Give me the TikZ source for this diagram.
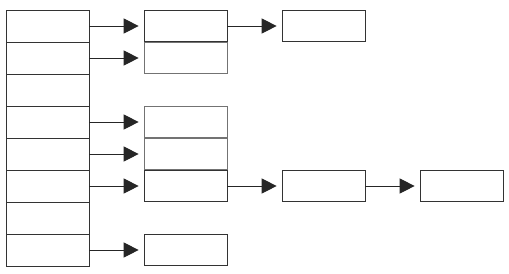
\documentclass[tikz,border=0pt]{standalone}
\usetikzlibrary{arrows.meta,positioning}

\begin{document}
\begin{tikzpicture}[
    node distance=1.67cm,
    cell/.style={rectangle, draw=black!80, line width=0.8pt, minimum width=2.49cm, minimum height=0.96cm, inner sep=0pt, outer sep=0pt},
    block/.style={rectangle, draw=black!80, line width=0.8pt, minimum width=2.47cm, minimum height=0.94cm, inner sep=0pt, outer sep=0pt},
    faint/.style={draw=black!55},
    line/.style={draw=black!85, line width=0.8pt, -{Triangle[length=0.45cm, width=0.45cm]}, shorten >=0.18cm}
]
    \useasboundingbox (0,0) rectangle (15.27,-8.19);
    % bucket column
    \node [cell] (c1) at (1.425,-0.78) {};
    \foreach \i [count=\j] in {2,...,8}
        \node [cell, below=0cm of c\j] (c\i) {};

    % chained entries
    \node [block, right=of c1] (b1) {};
    \node [block, right=of b1] (b1a) {};
    \node [block, faint, right=of c2] (b2) {};
    \node [block, faint, right=of c4] (b4) {};
    \node [block, faint, right=of c5] (b5) {};
    \node [block, right=of c6] (b6) {};
    \node [block, right=of b6] (b6a) {};
    \node [block, right=of b6a] (b6b) {};
    \node [block, right=of c8] (b8) {};

    \foreach \i in {1,2,4,5,6,8}
        \draw [line] (c\i.east) -- (b\i.west);
    \draw [line] (b1.east) -- (b1a.west);
    \draw [line] (b6.east) -- (b6a.west);
    \draw [line] (b6a.east) -- (b6b.west);
\end{tikzpicture}
\end{document}
